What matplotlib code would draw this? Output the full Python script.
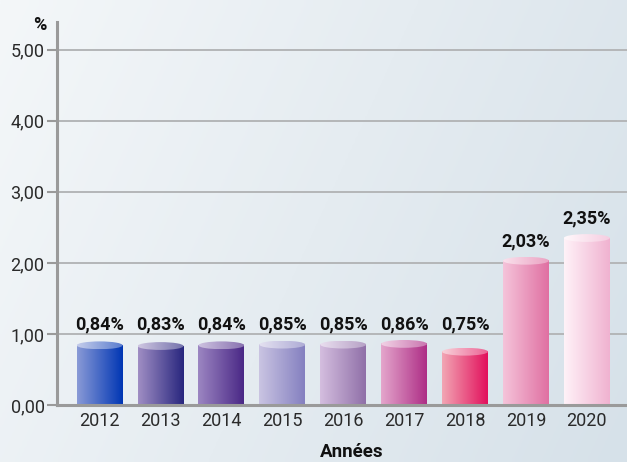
import numpy as np
import matplotlib
matplotlib.use("Agg")
import matplotlib.pyplot as plt
from matplotlib.patches import Ellipse
from matplotlib.colors import to_rgb

years = ["2012", "2013", "2014", "2015", "2016", "2017", "2018", "2019", "2020"]
values = [0.84, 0.83, 0.84, 0.85, 0.85, 0.86, 0.75, 2.03, 2.35]
labels = ["0,84%", "0,83%", "0,84%", "0,85%", "0,85%", "0,86%", "0,75%", "2,03%", "2,35%"]
yticks = [0, 1, 2, 3, 4, 5]
ytick_labels = ["0,00", "1,00", "2,00", "3,00", "4,00", "5,00"]

left_cols = ["#8a9ad6", "#a08ec4", "#9c86c2", "#cac4e2", "#d4bedf", "#e4a6cc", "#f2a6b4", "#f5c4da", "#fff2f8"]
right_cols = ["#0036b4", "#28267e", "#4a2886", "#8480c0", "#9070a8", "#ae2e86", "#e2105c", "#e070a2", "#f0b2d0"]

plt.rcParams['font.family'] = ['Roboto', 'DejaVu Sans']

fig = plt.figure(figsize=(6.27, 4.62), dpi=100)

# background gradient
bg = fig.add_axes([0, 0, 1, 1], zorder=-10)
gx = np.linspace(0, 1, 256)
gy = np.linspace(0, 1, 64)
X, Y = np.meshgrid(gx, gy)
t = np.clip(0.75 * X + 0.25 * (1 - Y), 0, 1)
c0 = np.array(to_rgb("#f4f7f9"))
c1 = np.array(to_rgb("#d6e1e9"))
img = c0[None, None, :] * (1 - t[..., None]) + c1[None, None, :] * t[..., None]
bg.imshow(img, extent=[0, 1, 0, 1], aspect='auto', origin='lower')
bg.set_axis_off()

ax = fig.add_axes([57 / 627, 57 / 462, 1 - 57 / 627, 383 / 462])
ax.patch.set_alpha(0)

w = 0.755
eh = 0.11
for i, (v, lc, rc) in enumerate(zip(values, left_cols, right_cols)):
    l = np.array(to_rgb(lc))
    r = np.array(to_rgb(rc))
    s = np.linspace(0, 1, 128)[:, None]
    grad = (l * (1 - s) + r * s)[None, :, :]
    ax.imshow(grad, extent=[i - w / 2, i + w / 2, 0, v], aspect='auto', zorder=3, interpolation='bilinear')
    top = (l * 0.5 + np.ones(3) * 0.5) * (1 - s) + (r * 0.65 + np.ones(3) * 0.35) * s
    im = ax.imshow(top[None, :, :], extent=[i - w / 2, i + w / 2, v - eh / 2, v + eh / 2],
                   aspect='auto', zorder=4, interpolation='bilinear')
    ell = Ellipse((i, v), w, eh, transform=ax.transData, facecolor='none', edgecolor='none')
    ax.add_patch(ell)
    im.set_clip_path(ell)
    ly = max(v, 0.86) + 0.27
    ax.text(i, ly, labels[i], ha='center', va='center', fontsize=13, fontweight='bold',
            color='#111111', zorder=6)

ax.set_xlim(-0.70, 8.66)
ax.set_ylim(0, 5.39)
ax.set_aspect('auto')

for yv in yticks[1:]:
    ax.axhline(yv, color='#b4b6b8', lw=1.4, zorder=1)

ax.set_yticks(yticks)
ax.set_yticklabels(ytick_labels)
ax.set_xticks(range(len(years)))
ax.set_xticklabels(years)
ax.tick_params(axis='y', length=7, width=1.5, color='#9a9a9a', labelsize=13, labelcolor='#2a2a2a', pad=2)
ax.tick_params(axis='x', length=0, labelsize=13, labelcolor='#2a2a2a', pad=5)

for sp in ['top', 'right']:
    ax.spines[sp].set_visible(False)
ax.spines['left'].set_color('#9a9a9a')
ax.spines['left'].set_linewidth(2.2)
ax.spines['bottom'].set_color('#9a9a9a')
ax.spines['bottom'].set_linewidth(2.2)
ax.spines['bottom'].set_zorder(5)

fig.text(40 / 627, 1 - 25 / 462, "%", ha='center', va='center', fontsize=13, fontweight='bold', color='#111111')
fig.text(352 / 627, 1 - 452 / 462, "Années", ha='center', va='center', fontsize=13.5, fontweight='bold', color='#111111')

fig.savefig("out.png", dpi=100)
